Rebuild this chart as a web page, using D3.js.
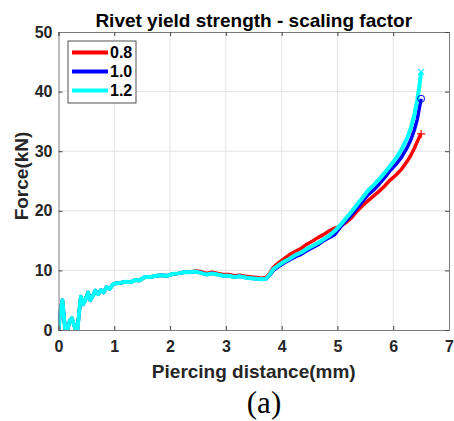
<!DOCTYPE html>
<html>
<head>
<meta charset="utf-8">
<script src="https://cdn.jsdelivr.net/npm/d3@7"></script>
<style>
  body { margin: 0; background: #fff; }
  svg { display: block; }
  .tick text { font-family: "Liberation Sans", Arial, sans-serif; font-weight: bold; font-size: 16px; fill: #262626; }
</style>
</head>
<body>
<div id="chart"></div>
<script>
// piercing distance (mm), shared by all three runs
const distance = [0, 0.03, 0.07, 0.1, 0.12, 0.16, 0.2, 0.24, 0.28, 0.31, 0.34, 0.37, 0.4, 0.44, 0.48, 0.53, 0.57, 0.62, 0.66, 0.71,
  0.76, 0.81, 0.86, 0.92, 0.97, 1.01, 1.1, 1.2, 1.3, 1.37, 1.45, 1.55, 1.65, 1.75, 1.85, 1.95, 2.05, 2.15, 2.25, 2.35,
  2.45, 2.55, 2.65, 2.75, 2.85, 2.95, 3.05, 3.15, 3.25, 3.35, 3.45, 3.55, 3.65, 3.72, 3.78, 3.85, 3.95, 4.05, 4.15, 4.25,
  4.35, 4.45, 4.55, 4.65, 4.75, 4.85, 4.95, 5.05, 5.15, 5.25, 5.35, 5.45, 5.55, 5.65, 5.75, 5.85, 5.95, 6.05, 6.15, 6.25,
  6.32, 6.38, 6.43, 6.47, 6.5];

// force (kN) per scaling factor
const force08 = [0, 3.0, 5.0, 2.0, 0, 0, 1.5, 2.0, 0.8, 0, 0, 3.0, 5.6, 4.3, 5.0, 6.3, 5.0, 5.8, 6.6, 6.0,
  6.7, 6.3, 7.2, 6.9, 7.6, 7.8, 7.9, 8.1, 8.0, 8.4, 8.3, 8.9, 8.9, 9.1, 9.2, 9.1, 9.4, 9.5, 9.7, 9.7,
  9.9, 9.8, 9.5, 9.7, 9.5, 9.3, 9.3, 9.1, 9.2, 9.0, 8.9, 8.8, 8.7, 8.8, 9.4, 10.5, 11.3, 12.0, 12.7, 13.2,
  13.7, 14.4, 14.9, 15.5, 16.0, 16.6, 17.1, 17.4, 18.0, 18.8, 19.9, 20.9, 21.7, 22.5, 23.3, 24.2, 25.2, 26.0, 27.0, 28.3,
  29.4, 30.5, 31.6, 32.4, 32.9];
const force10 = [0, 3.0, 5.0, 2.0, 0, 0, 1.5, 2.0, 0.8, 0, 0, 3.0, 5.6, 4.3, 5.0, 6.3, 5.0, 5.8, 6.6, 6.0,
  6.7, 6.3, 7.2, 6.9, 7.6, 7.8, 7.9, 8.1, 8.0, 8.4, 8.3, 8.9, 8.9, 9.1, 9.2, 9.1, 9.4, 9.5, 9.7, 9.7,
  9.8, 9.6, 9.3, 9.5, 9.3, 9.1, 9.1, 8.9, 9.0, 8.8, 8.7, 8.6, 8.5, 8.6, 9.1, 10.0, 10.7, 11.3, 11.8, 12.3,
  12.7, 13.3, 13.8, 14.3, 15.0, 15.5, 16.0, 17.2, 18.3, 19.3, 20.4, 21.6, 22.7, 23.5, 24.5, 25.6, 26.8, 27.8, 29.0, 30.6,
  32.0, 33.6, 35.3, 37.3, 38.8];
const force12 = [0, 3.0, 5.0, 2.0, 0, 0, 1.5, 2.0, 0.8, 0, 0, 3.0, 5.6, 4.3, 5.0, 6.3, 5.0, 5.8, 6.6, 6.0,
  6.7, 6.3, 7.2, 6.9, 7.6, 7.8, 7.9, 8.1, 8.0, 8.4, 8.3, 8.9, 8.9, 9.1, 9.2, 9.1, 9.4, 9.5, 9.7, 9.7,
  9.8, 9.6, 9.3, 9.5, 9.3, 9.1, 9.1, 8.9, 9.0, 8.8, 8.7, 8.6, 8.5, 8.6, 9.2, 10.2, 10.9, 11.5, 12.0, 12.6,
  13.0, 13.6, 14.1, 14.6, 15.2, 15.8, 16.6, 17.6, 18.7, 19.8, 21.0, 22.2, 23.4, 24.3, 25.3, 26.4, 27.6, 28.8, 30.3, 32.2,
  34.0, 36.2, 38.5, 41.0, 43.3];

const seriesLabels = ["0.8", "1.0", "1.2"];
const seriesColors = ["#ff0000", "#0000ff", "#00ffff"];
const xTicks = [0, 1, 2, 3, 4, 5, 6, 7];
const yTicks = [0, 10, 20, 30, 40, 50];

const W = 454, H = 421;
const margin = { top: 32, right: 5, bottom: 91, left: 58.5 };
const plotW = W - margin.left - margin.right;
const plotH = H - margin.top - margin.bottom;
const FONT = '"Liberation Sans", Arial, sans-serif';

const svg = d3.select("#chart").append("svg").attr("width", W).attr("height", H);
const g = svg.append("g").attr("transform", `translate(${margin.left},${margin.top})`);

const x = d3.scaleLinear().domain([0, 7]).range([0, plotW]);
const y = d3.scaleLinear().domain([0, 50]).range([plotH, 0]);

// grid
g.append("g").selectAll("line").data(xTicks.slice(1, -1)).join("line")
  .attr("x1", d => x(d)).attr("x2", d => x(d)).attr("y1", 0).attr("y2", plotH)
  .attr("stroke", "#e3e3e3").attr("stroke-width", 1);
g.append("g").selectAll("line").data(yTicks.slice(1, -1)).join("line")
  .attr("y1", d => y(d)).attr("y2", d => y(d)).attr("x1", 0).attr("x2", plotW)
  .attr("stroke", "#e3e3e3").attr("stroke-width", 1);

// series
const series = [force08, force10, force12].map((vals, i) => ({
  label: seriesLabels[i], color: seriesColors[i],
  points: distance.map((d, j) => [d, vals[j]])
}));

const line = d3.line().x(d => x(d[0])).y(d => y(d[1]));
svg.append("clipPath").attr("id", "clip").append("rect")
  .attr("x", 0).attr("y", -5).attr("width", plotW).attr("height", plotH + 5);

const lines = g.append("g").attr("clip-path", "url(#clip)");
series.forEach((s, i) => {
  lines.append("path").datum(s.points)
    .attr("fill", "none").attr("stroke", s.color)
    .attr("stroke-width", i === 2 ? 4 : 3.5)
    .attr("stroke-linejoin", "round")
    .attr("d", line);
});

// end markers: + , o , x
const ends = series.map(s => s.points[s.points.length - 1]);
const e0 = ends[0], e1 = ends[1], e2 = ends[2];
g.append("path").attr("d", `M${x(e0[0]) - 4},${y(e0[1])}h8M${x(e0[0])},${y(e0[1]) - 4}v8`)
  .attr("stroke", seriesColors[0]).attr("stroke-width", 1.2);
g.append("circle").attr("cx", x(e1[0])).attr("cy", y(e1[1])).attr("r", 3.5)
  .attr("fill", "none").attr("stroke", seriesColors[1]).attr("stroke-width", 1);
g.append("path").attr("d", `M${x(e2[0]) - 3},${y(e2[1]) - 3}l6,6M${x(e2[0]) + 3},${y(e2[1]) - 3}l-6,6`)
  .attr("stroke", seriesColors[2]).attr("stroke-width", 1.2);

// axes
const boxColor = "#7a7a7a";
g.append("g").attr("transform", `translate(0,${plotH})`)
  .call(d3.axisBottom(x).tickValues(xTicks).tickSize(-4).tickPadding(11).tickFormat(d3.format("d")));
g.append("g")
  .call(d3.axisLeft(y).tickValues(yTicks).tickSize(-4).tickPadding(6).tickFormat(d3.format("d")));
g.append("g").call(d3.axisTop(x).tickValues(xTicks).tickSize(-4).tickFormat(""));
g.append("g").attr("transform", `translate(${plotW},0)`)
  .call(d3.axisRight(y).tickValues(yTicks).tickSize(-4).tickFormat(""));
g.selectAll(".domain").attr("stroke", boxColor);
g.selectAll(".tick line").attr("stroke", "#444");

// titles
svg.append("text").attr("x", margin.left + plotW / 2).attr("y", 27)
  .attr("text-anchor", "middle").attr("font-family", FONT).attr("font-weight", "bold")
  .attr("font-size", 19).attr("fill", "#000").text("Rivet yield strength - scaling factor");
svg.append("text").attr("x", margin.left + plotW / 2).attr("y", 378)
  .attr("text-anchor", "middle").attr("font-family", FONT).attr("font-weight", "bold")
  .attr("font-size", 19).attr("fill", "#262626").text("Piercing distance(mm)");
svg.append("text").attr("transform", `translate(28,176) rotate(-90)`)
  .attr("text-anchor", "middle").attr("font-family", FONT).attr("font-weight", "bold")
  .attr("font-size", 19).attr("fill", "#262626").text("Force(kN)");
svg.append("text").attr("x", 264).attr("y", 413)
  .attr("text-anchor", "middle").attr("font-family", '"Liberation Serif", "Times New Roman", serif')
  .attr("font-size", 31).attr("fill", "#000").text("(a)");

// legend
const legend = svg.append("g").attr("transform", "translate(68,41)");
legend.append("rect").attr("width", 68).attr("height", 62)
  .attr("fill", "#fff").attr("stroke", "#262626").attr("stroke-width", 0.8);
series.forEach((s, i) => {
  const ly = 11.5 + i * 19;
  legend.append("line").attr("x1", 4).attr("x2", 40).attr("y1", ly).attr("y2", ly)
    .attr("stroke", s.color).attr("stroke-width", 4);
  legend.append("text").attr("x", 42).attr("y", ly + 5.5)
    .attr("font-family", FONT).attr("font-weight", "bold").attr("font-size", 16)
    .attr("fill", "#000").text(s.label);
});
</script>
</body>
</html>
